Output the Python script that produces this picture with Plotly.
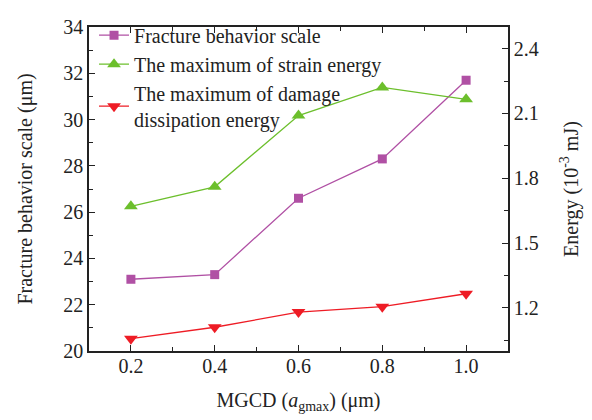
import plotly.graph_objects as go

mgcd = [0.2, 0.4, 0.6, 0.8, 1.0]
fracture_scale = [23.1, 23.3, 26.6, 28.3, 31.7]
strain_energy = [1.67, 1.76, 2.09, 2.22, 2.165]
damage_energy = [1.057, 1.11, 1.18, 1.205, 1.265]

purple = "#b050a4"
green = "#6cbf2c"
red = "#ee1c25"
FONT = "Liberation Serif"

fig = go.Figure()
fig.add_trace(go.Scatter(x=mgcd, y=fracture_scale, mode="lines+markers",
                         name="Fracture behavior scale",
                         line=dict(color=purple, width=1.3),
                         marker=dict(symbol="square", size=9, color=purple)))
fig.add_trace(go.Scatter(x=mgcd, y=strain_energy, mode="lines+markers",
                         name="The maximum of strain energy", yaxis="y2",
                         line=dict(color=green, width=1.3),
                         marker=dict(symbol="triangle-up", size=12, color=green)))
fig.add_trace(go.Scatter(x=mgcd, y=damage_energy, mode="lines+markers",
                         name="The maximum of damage<br>dissipation energy", yaxis="y2",
                         line=dict(color=red, width=1.3),
                         marker=dict(symbol="triangle-down", size=12, color=red)))

axis_common = dict(showline=True, linecolor="#222", linewidth=1.5, showgrid=False,
                   zeroline=False, ticks="inside", ticklen=6, tickcolor="#222",
                   tickwidth=1.3, automargin=False,
                   tickfont=dict(family=FONT, size=20, color="#222"))

fig.update_layout(
    width=584, height=412,
    margin=dict(l=81, r=84, t=8, b=69),
    paper_bgcolor="white", plot_bgcolor="white",
    font=dict(family=FONT, color="#222"),
    showlegend=True,
    legend=dict(x=0.012, y=1.035, xanchor="left", yanchor="top",
                bgcolor="rgba(0,0,0,0)", font=dict(family=FONT, size=20, color="#222"),
                tracegroupgap=0, itemwidth=30),
    xaxis=dict(**axis_common, range=[0.1, 1.1], tick0=0.2, dtick=0.2, tickformat=".1f",
               mirror="ticks", ticklabelstandoff=-4,
               minor=dict(ticks="inside", ticklen=4, dtick=0.1, tick0=0.1, tickcolor="#222"),
               title=dict(text="MGCD (<i>a</i><sub>gmax</sub>) (μm)",
                          font=dict(family=FONT, size=20), standoff=17)),
    yaxis=dict(**axis_common, range=[20, 34], dtick=2,
               minor=dict(ticks="inside", ticklen=4, dtick=1, tickcolor="#222"),
               title=dict(text="Fracture behavior scale (μm)",
                          font=dict(family=FONT, size=20), standoff=25)),
    yaxis2=dict(**axis_common, overlaying="y", side="right", range=[1.0, 2.5],
                tick0=1.2, dtick=0.3, tickformat=".1f",
                minor=dict(ticks="inside", ticklen=4, dtick=0.15, tick0=1.05, tickcolor="#222"),
                title=dict(text="Energy (10<sup>-3</sup> mJ)",
                           font=dict(family=FONT, size=20), standoff=26)),
)

fig.write_html("out.html")
